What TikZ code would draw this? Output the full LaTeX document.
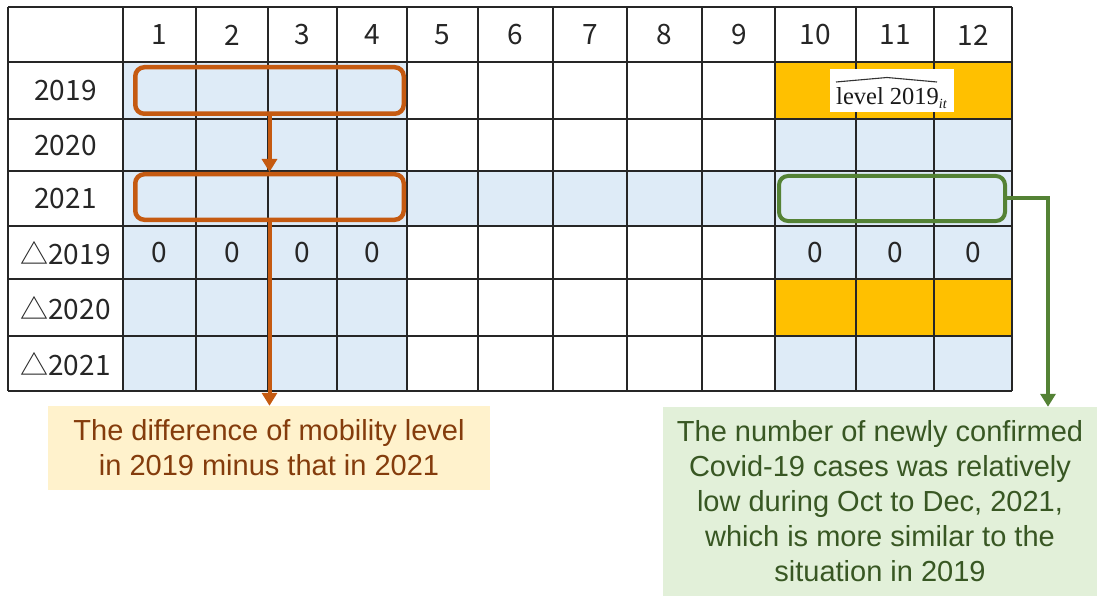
\documentclass[tikz,border=0pt]{standalone}
\usepackage{fontspec}
\setmainfont{Liberation Sans}
\newfontfamily\cjkf{Noto Sans CJK SC}
\newfontfamily\timesf{Liberation Serif}
\usetikzlibrary{arrows.meta}
\definecolor{cellblue}{HTML}{DEEBF7}
\definecolor{cellorange}{HTML}{FFC000}
\definecolor{oline}{HTML}{C55A11}
\definecolor{otext}{HTML}{843C0C}
\definecolor{ofill}{HTML}{FFF2CC}
\definecolor{gline}{HTML}{548235}
\definecolor{gtext}{HTML}{385723}
\definecolor{gfill}{HTML}{E2F0D9}
\begin{document}
\begin{tikzpicture}[x=1pt,y=-1pt,
  gridline/.style={draw=black!85, line width=1.2pt},
  gridtxt/.style={font=\cjkf\fontsize{28}{30}\selectfont, inner sep=0pt, text=black!85},
  obox/.style={draw=oline, line width=4.5pt, rounded corners=9pt, inner sep=0pt},
  gbox/.style={draw=gline, line width=4pt, rounded corners=9pt, inner sep=0pt},
  oarrow/.style={draw=oline, line width=4pt, -{Triangle[length=13pt,width=15pt]}},
  garrow/.style={draw=gline, line width=4pt, -{Triangle[length=13pt,width=15pt]}},
  note/.style={inner sep=0pt, align=center, font=\fontsize{29}{35}\selectfont}]
\useasboundingbox (0,0) rectangle (1097,596);
\fill[white] (0,0) rectangle (1097,596);
% cell fills
\fill[cellblue] (123,62) rectangle (407,391);
\fill[cellblue] (407,171) rectangle (775,226);
\fill[cellblue] (775,119) rectangle (1012,279);
\fill[cellblue] (775,336) rectangle (1012,391);
\fill[cellorange] (775,62) rectangle (1012,119);
\fill[cellorange] (775,279) rectangle (1012,336);
% grid
\foreach \x in {8,123,196,268,337,407,478,553,627,702,775,856,934,1012}
  \draw[gridline] (\x,7) -- (\x,391);
\foreach \y in {7,62,119,171,226,279,336,391}
  \draw[gridline] (8,\y) -- (1012,\y);
% header
\foreach \x/\t in {159.5/1,232/2,302.5/3,372/4,442.5/5,515.5/6,590/7,664.5/8,739/9,815.5/10,895/11,973/12}
  \node[gridtxt] (h\t) at (\x,35) {\t};
% row labels
\node[gridtxt] (r1) at (65.5,91) {2019};
\node[gridtxt] (r2) at (65.5,145.5) {2020};
\node[gridtxt] (r3) at (65.5,199) {2021};
\node[gridtxt] (r4) at (65.5,253) {△2019};
\node[gridtxt] (r5) at (65.5,308) {△2020};
\node[gridtxt] (r6) at (65.5,364) {△2021};
% zeros
\foreach \x/\n in {159.5/a,232/b,302.5/c,372/d,815.5/e,895/f,973/g}
  \node[gridtxt] (z\n) at (\x,253) {0};
% level label
\node[fill=white, minimum width=124pt, minimum height=43pt, inner sep=0pt] (lvl) at (892,90.5) {};
\node[anchor=base west, inner sep=0pt, text=black!90] (lvltxt) at (836,105)
  {\timesf\fontsize{24.5}{26}\selectfont level 2019\raisebox{-3.5pt}{\fontsize{14}{14}\selectfont\itshape it}};
\draw[line width=1.1pt, black!80] (836,82) .. controls (862,79) .. (887,77.5) .. controls (912,79) .. (937,82);
% highlight boxes
\node[obox, minimum width=268.5pt, minimum height=46.5pt] (box19) at (269.5,90.5) {};
\node[obox, minimum width=268.5pt, minimum height=45.5pt] (box21) at (269.5,197) {};
\node[gbox, minimum width=226pt, minimum height=45pt] (boxg) at (892,198.5) {};
% notes
\node[note, fill=ofill, text=otext, minimum width=442pt, minimum height=84pt] (note1) at (269,448)
  {The difference of mobility level\\in 2019 minus that in 2021};
\node[note, fill=gfill, text=gtext, minimum width=434pt, minimum height=189pt] (note2) at (880,501.5)
  {The number of newly confirmed\\Covid-19 cases was relatively\\low during Oct to Dec, 2021,\\which is more similar to the\\situation in 2019};
% connectors
\draw[oarrow] (box19.south) -- (box21.north);
\draw[oarrow] (box21.south) -- (box21.south |- note1.north);
\coordinate (gturn) at (1048,198.5);
\draw[garrow] (boxg.east) -| (gturn |- note2.north);
\end{tikzpicture}
\end{document}
